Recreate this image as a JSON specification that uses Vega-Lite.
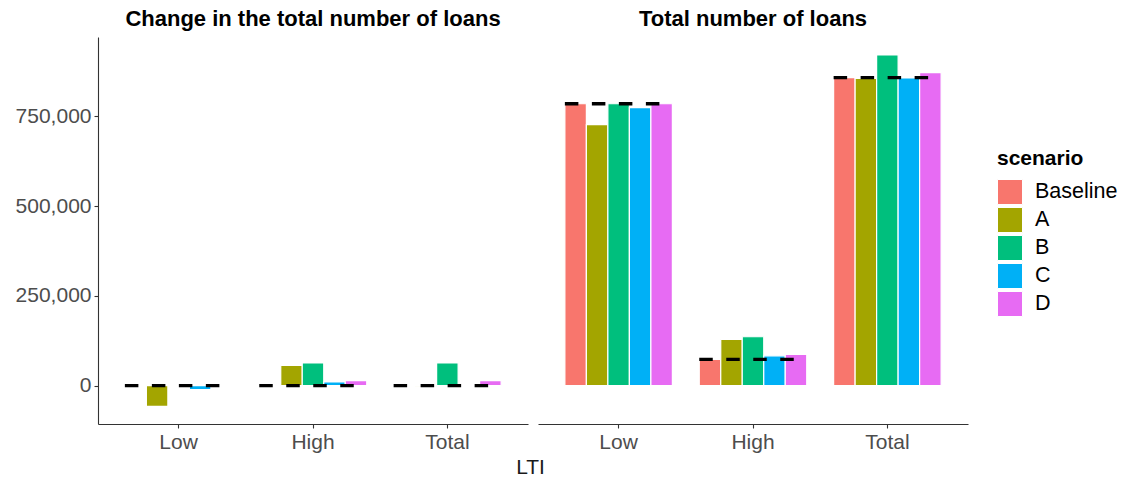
{
  "$schema": "https://vega.github.io/schema/vega-lite/v6.json",
  "background": "white",
  "padding": {"left": 15, "top": 8, "right": 5, "bottom": 1},
  "data": {"values": [
    {"panel": "Change in the total number of loans", "LTI": "Low", "scenario": "Baseline", "value": 0},
    {"panel": "Change in the total number of loans", "LTI": "Low", "scenario": "A", "value": -58000},
    {"panel": "Change in the total number of loans", "LTI": "Low", "scenario": "B", "value": 0},
    {"panel": "Change in the total number of loans", "LTI": "Low", "scenario": "C", "value": -11000},
    {"panel": "Change in the total number of loans", "LTI": "Low", "scenario": "D", "value": 0},
    {"panel": "Change in the total number of loans", "LTI": "High", "scenario": "Baseline", "value": 0},
    {"panel": "Change in the total number of loans", "LTI": "High", "scenario": "A", "value": 56000},
    {"panel": "Change in the total number of loans", "LTI": "High", "scenario": "B", "value": 63000},
    {"panel": "Change in the total number of loans", "LTI": "High", "scenario": "C", "value": 10000},
    {"panel": "Change in the total number of loans", "LTI": "High", "scenario": "D", "value": 14000},
    {"panel": "Change in the total number of loans", "LTI": "Total", "scenario": "Baseline", "value": 0},
    {"panel": "Change in the total number of loans", "LTI": "Total", "scenario": "A", "value": -2000},
    {"panel": "Change in the total number of loans", "LTI": "Total", "scenario": "B", "value": 63000},
    {"panel": "Change in the total number of loans", "LTI": "Total", "scenario": "C", "value": -1000},
    {"panel": "Change in the total number of loans", "LTI": "Total", "scenario": "D", "value": 14000},
    {"panel": "Total number of loans", "LTI": "Low", "scenario": "Baseline", "value": 785000},
    {"panel": "Total number of loans", "LTI": "Low", "scenario": "A", "value": 727000},
    {"panel": "Total number of loans", "LTI": "Low", "scenario": "B", "value": 785000},
    {"panel": "Total number of loans", "LTI": "Low", "scenario": "C", "value": 774000},
    {"panel": "Total number of loans", "LTI": "Low", "scenario": "D", "value": 785000},
    {"panel": "Total number of loans", "LTI": "High", "scenario": "Baseline", "value": 73000},
    {"panel": "Total number of loans", "LTI": "High", "scenario": "A", "value": 129000},
    {"panel": "Total number of loans", "LTI": "High", "scenario": "B", "value": 136000},
    {"panel": "Total number of loans", "LTI": "High", "scenario": "C", "value": 83000},
    {"panel": "Total number of loans", "LTI": "High", "scenario": "D", "value": 87000},
    {"panel": "Total number of loans", "LTI": "Total", "scenario": "Baseline", "value": 858000},
    {"panel": "Total number of loans", "LTI": "Total", "scenario": "A", "value": 856000},
    {"panel": "Total number of loans", "LTI": "Total", "scenario": "B", "value": 921000},
    {"panel": "Total number of loans", "LTI": "Total", "scenario": "C", "value": 857000},
    {"panel": "Total number of loans", "LTI": "Total", "scenario": "D", "value": 872000}
  ]},
  "title": {"text": "LTI", "orient": "bottom", "anchor": "middle", "fontSize": 21, "fontWeight": "normal", "color": "#1a1a1a", "font": "Liberation Sans", "offset": 5, "dx": -36},
  "facet": {
    "column": {
      "field": "panel", "type": "nominal", "title": null,
      "header": {"labelFontSize": 22, "labelFontWeight": "bold", "labelColor": "black", "labelFont": "Liberation Sans", "labelPadding": 6}
    }
  },
  "spacing": 10,
  "spec": {
    "width": 430,
    "height": 387,
    "layer": [
      {
        "mark": {"type": "bar", "stroke": "white", "strokeWidth": 1.2},
        "encoding": {
          "x": {"field": "LTI", "type": "nominal", "sort": ["Low", "High", "Total"],
                "scale": {"paddingInner": 0.2, "paddingOuter": 0.2},
                "axis": {"title": null, "labelAngle": 0}},
          "xOffset": {"field": "scenario", "type": "nominal", "sort": ["Baseline", "A", "B", "C", "D"],
                      "scale": {"paddingInner": 0, "paddingOuter": 0}},
          "y": {"field": "value", "type": "quantitative",
                "scale": {"domain": [-107000, 971000], "nice": false, "zero": false},
                "axis": {"title": null, "values": [0, 250000, 500000, 750000], "format": ",d"}},
          "color": {"field": "scenario", "type": "nominal", "sort": ["Baseline", "A", "B", "C", "D"],
                    "scale": {"domain": ["Baseline", "A", "B", "C", "D"], "range": ["#F8766D", "#A3A500", "#00BF7D", "#00B0F6", "#E76BF3"]},
                    "legend": {"title": "scenario", "orient": "none", "legendX": 899, "legendY": 111}}
        }
      },
      {
        "transform": [{"filter": "datum.scenario === 'Baseline'"}],
        "mark": {"type": "rule", "color": "black", "strokeWidth": 3.3, "strokeDash": [13.5, 13.5], "strokeCap": "butt"},
        "encoding": {
          "x": {"field": "LTI", "type": "nominal", "sort": ["Low", "High", "Total"], "bandPosition": 0},
          "x2": {"field": "LTI", "bandPosition": 1},
          "y": {"field": "value", "type": "quantitative"}
        }
      }
    ]
  },
  "config": {
    "font": "Liberation Sans",
    "view": {"stroke": null},
    "axis": {
      "grid": false, "labelFontSize": 21, "labelColor": "#4d4d4d", "labelFont": "Liberation Sans",
      "domainColor": "#333333", "domainWidth": 1.1, "tickColor": "#333333", "tickSize": 4, "tickWidth": 1.1, "labelPadding": 3
    },
    "legend": {
      "titleFontSize": 21, "titleFontWeight": "bold", "titleColor": "black", "titleFont": "Liberation Sans",
      "labelFontSize": 21.5, "labelColor": "black", "labelFont": "Liberation Sans",
      "symbolType": "square", "symbolSize": 625, "symbolStrokeColor": "white", "symbolStrokeWidth": 1, "symbolOpacity": 1,
      "rowPadding": -2, "labelOffset": 12, "titlePadding": 10
    }
  }
}
